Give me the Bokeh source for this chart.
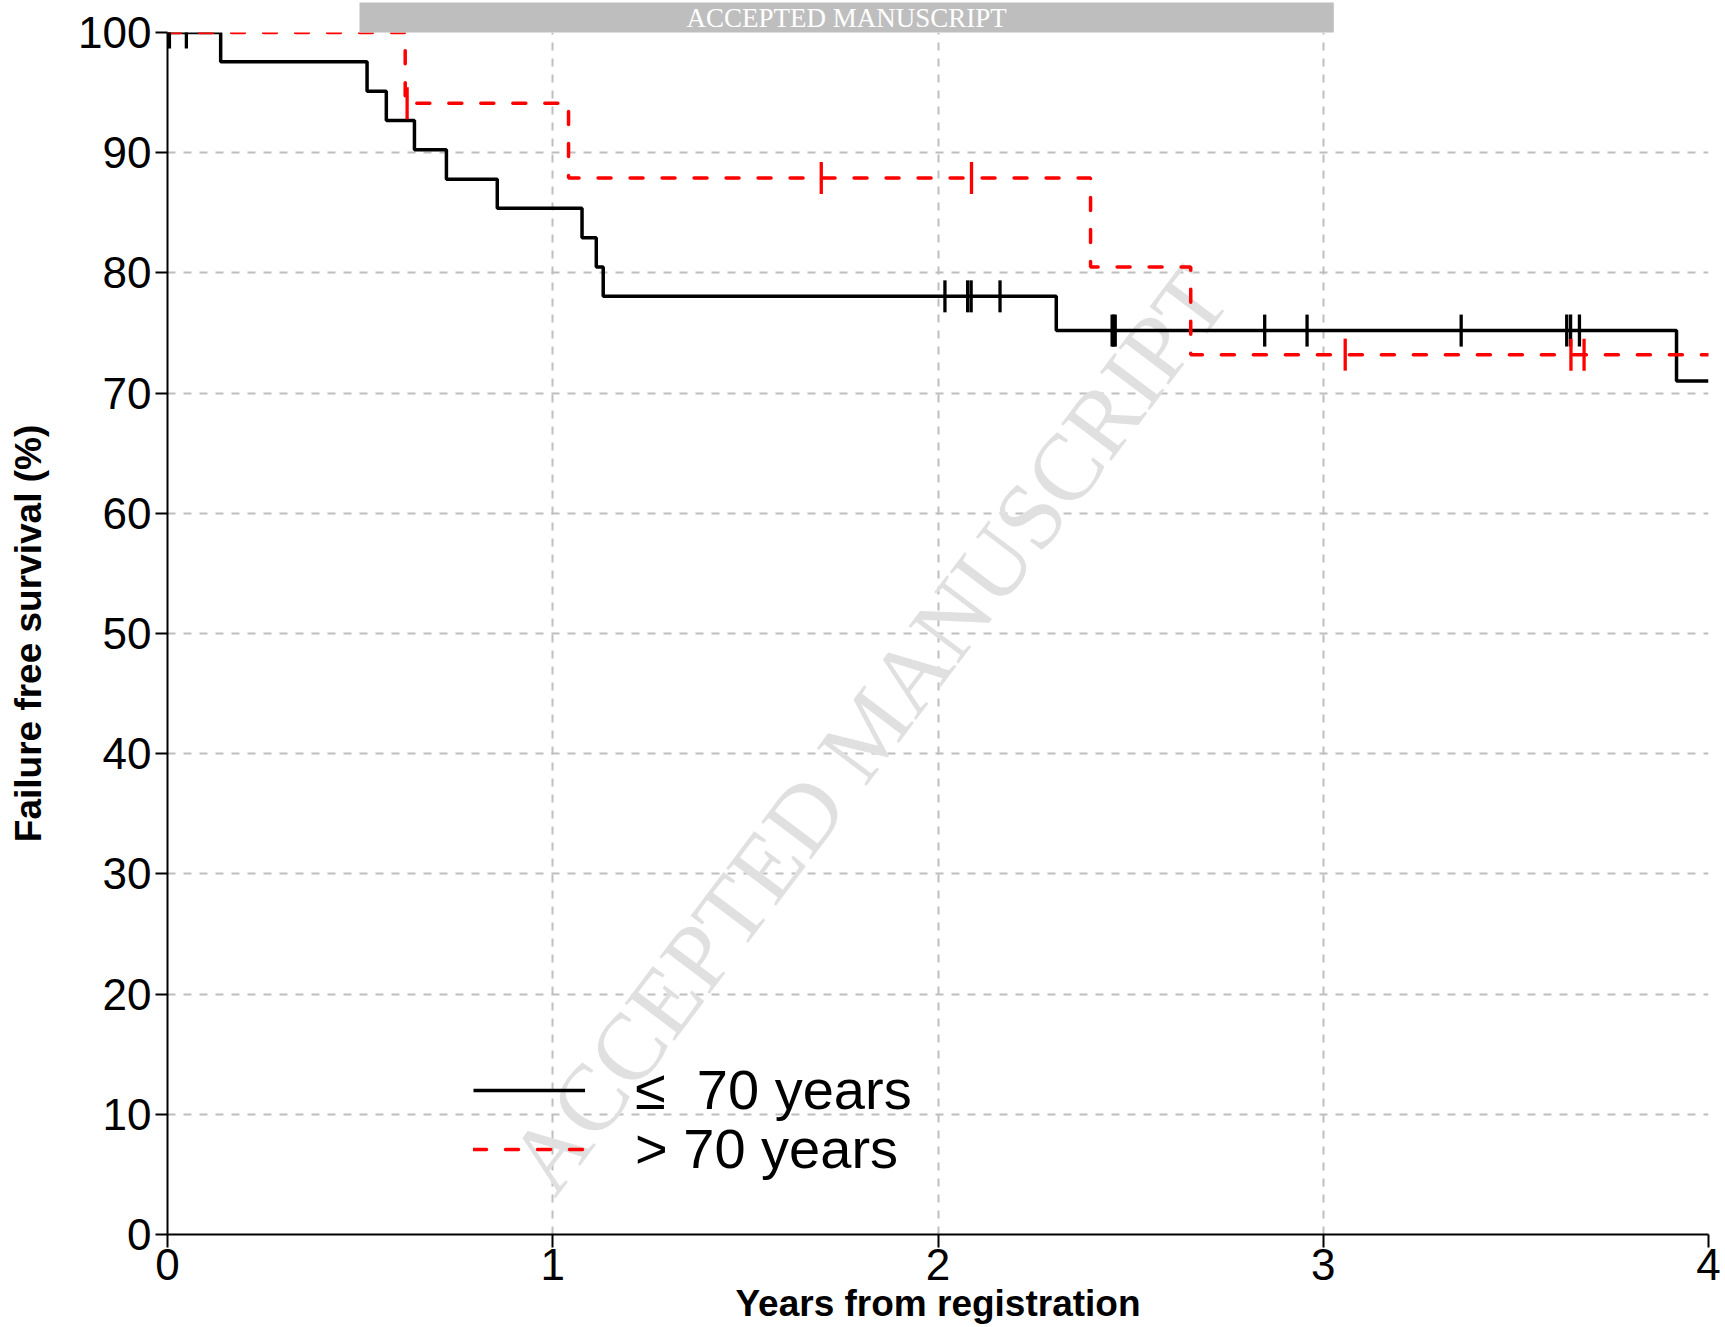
import numpy as np
from bokeh.plotting import figure
from bokeh.models import Range1d, Label, Legend, LegendItem, FixedTicker, Title
from bokeh.embed import file_html
from bokeh.resources import INLINE

# ---- data ----
# group "<= 70 years": step times (years) and failure-free survival (%)
young_step_t = [0.0, 0.138, 0.518, 0.568, 0.641, 0.724, 0.856, 1.076, 1.113, 1.131, 2.307, 3.917, 4.0]
young_step_s = [100, 97.56, 95.12, 92.68, 90.24, 87.80, 85.37, 82.93, 80.49, 78.05, 75.2, 71.0, 71.0]
# censored observations
young_cens_t = [0.005, 0.049, 2.018, 2.077, 2.086, 2.161, 2.452, 2.456, 2.460,
                2.848, 2.958, 3.358, 3.632, 3.642, 3.665]
young_cens_s = [100, 100, 78.05, 78.05, 78.05, 78.05, 75.2, 75.2, 75.2,
                75.2, 75.2, 75.2, 75.2, 75.2, 75.2]

# group "> 70 years"
old_step_t = [0.0, 0.617, 1.041, 2.396, 2.656, 4.0]
old_step_s = [100, 94.12, 87.9, 80.5, 73.2, 73.2]
old_cens_t = [0.622, 1.697, 2.087, 3.057, 3.643, 3.677]
old_cens_s = [94.12, 87.9, 87.9, 73.2, 73.2, 73.2]

x_ticks = [0, 1, 2, 3, 4]
y_ticks = [0, 10, 20, 30, 40, 50, 60, 70, 80, 90, 100]

labels = ["\u2264 \u00a070 years", "> 70 years"]
x_title = "Years from registration"
y_title = "Failure free survival (%)"
watermark = "ACCEPTED MANUSCRIPT"

FONT = "Liberation Sans"

banner = Title(text=watermark, align="left", offset=192,
               text_font="Liberation Serif", text_font_size="27px",
               text_font_style="normal", text_color="white",
               background_fill_color="#bebebe", padding=(327, 0), standoff=0)

p = figure(width=1724, height=1326,
           x_range=Range1d(0, 4), y_range=Range1d(0, 100),
           output_backend="svg", toolbar_location=None, title=banner,
           min_border_left=167, min_border_right=16,
           min_border_top=31, min_border_bottom=92)
p.background_fill_color = "white"
p.border_fill_color = "white"
p.outline_line_color = None

# grid
p.grid.grid_line_color = "#bebebe"
p.grid.grid_line_dash = "8 8"
p.grid.grid_line_width = 2

# watermark (under the curves)
p.add_layout(Label(x=1.82, y=42, text=watermark, angle=53, angle_units="deg",
                   text_font="Liberation Serif", text_font_size="95px",
                   text_color="#e0e0e0", text_align="center", text_baseline="middle",
                   level="underlay"))

r_young = p.step(young_step_t, young_step_s, mode="after",
                 line_color="black", line_width=3.5)
r_old = p.step(old_step_t, old_step_s, mode="after",
               line_color="red", line_width=3.5, line_dash="13 19", line_cap="round")

p.scatter(young_cens_t, young_cens_s, marker="dash", angle=np.pi / 2, size=32,
          line_color="black", line_width=3.3)
p.scatter(old_cens_t, old_cens_s, marker="dash", angle=np.pi / 2, size=32,
          line_color="red", line_width=3.3)

# axes
p.xaxis.ticker = FixedTicker(ticks=x_ticks)
p.yaxis.ticker = FixedTicker(ticks=y_ticks)
for ax in (p.xaxis, p.yaxis):
    ax.major_label_text_font = FONT
    ax.major_label_text_font_size = "44px"
    ax.major_label_text_color = "black"
    ax.axis_line_color = "black"
    ax.axis_line_width = 2
    ax.major_tick_line_color = "black"
    ax.major_tick_line_width = 2
    ax.major_tick_in = 0
    ax.minor_tick_line_color = None
    ax.axis_label_text_font = FONT
    ax.axis_label_text_font_style = "bold"
    ax.axis_label_text_font_size = "37px"
    ax.axis_label_text_color = "black"
p.xaxis.major_tick_out = 13
p.yaxis.major_tick_out = 12
p.xaxis.major_label_standoff = 1
p.yaxis.major_label_standoff = 4
p.xaxis.axis_label = x_title
p.yaxis.axis_label = y_title
p.xaxis.axis_label_standoff = 0
p.yaxis.axis_label_standoff = 26

# legend: one entry per Legend so the row gap matches the original
legend_style = dict(label_text_font=FONT, label_text_font_size="56px",
                    label_text_color="black",
                    glyph_width=112, glyph_height=50, label_standoff=50,
                    spacing=0, padding=0, margin=0,
                    background_fill_alpha=0, border_line_alpha=0)
p.add_layout(Legend(items=[LegendItem(label=labels[0], renderers=[r_young])],
                    location=(306, 112), **legend_style))
p.add_layout(Legend(items=[LegendItem(label=labels[1], renderers=[r_old])],
                    location=(306, 53), **legend_style))

open("out.html", "w").write(file_html(p, INLINE))
